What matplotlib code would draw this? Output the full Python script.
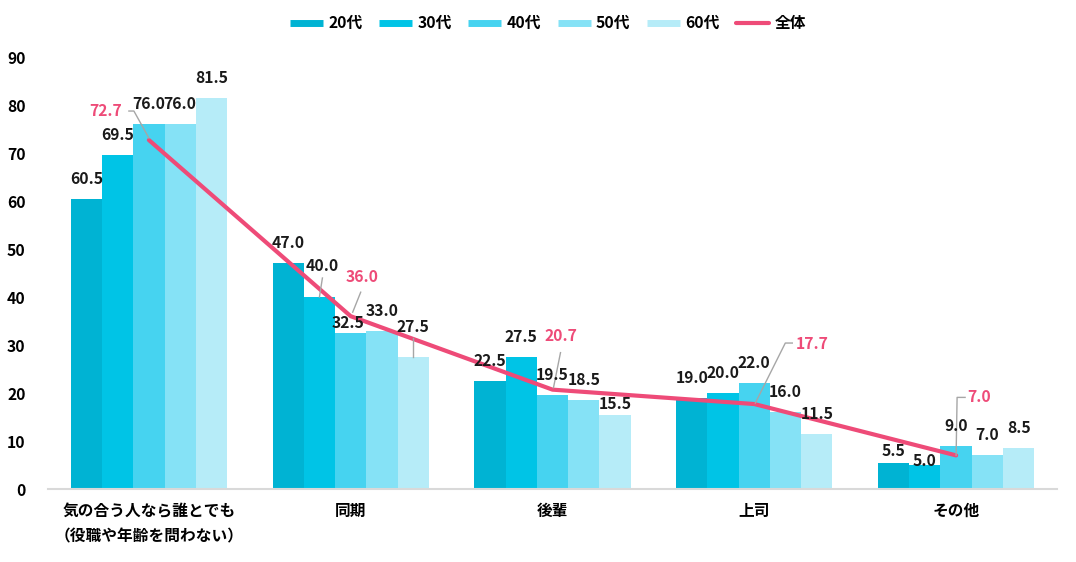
import numpy as np
import matplotlib
matplotlib.use("Agg")
import matplotlib.pyplot as plt
from matplotlib.lines import Line2D

plt.rcParams['font.family'] = ['Noto Sans CJK JP', 'DejaVu Sans']

categories = ["気の合う人なら誰とでも\n（役職や年齢を問わない）", "同期", "後輩", "上司", "その他"]
series_names = ["20代", "30代", "40代", "50代", "60代"]
s20 = [60.5, 47.0, 22.5, 19.0, 5.5]
s30 = [69.5, 40.0, 27.5, 20.0, 5.0]
s40 = [76.0, 32.5, 19.5, 22.0, 9.0]
s50 = [76.0, 33.0, 18.5, 16.0, 7.0]
s60 = [81.5, 27.5, 15.5, 11.5, 8.5]
total = [72.7, 36.0, 20.7, 17.7, 7.0]
yticks = [0, 10, 20, 30, 40, 50, 60, 70, 80, 90]

colors = ["#00B3D3", "#00C4E6", "#46D3F0", "#85E2F6", "#B6ECF8"]
pink = "#EE4B78"
lead = "#A6A6A6"

fig = plt.figure(figsize=(10.76, 5.62), dpi=100)
ax = fig.add_axes([48/1076, 73/562, 1009/1076, 432/562])
ax.set_xlim(-0.5, 4.5)
ax.set_ylim(0, 90)

x = np.arange(len(categories))
w = 0.155
allser = [s20, s30, s40, s50, s60]
for i, s in enumerate(allser):
    ax.bar(x + (i - 2) * w, s, w, color=colors[i], zorder=2)

ax.plot(x, total, color=pink, lw=3, solid_capstyle="round", zorder=4)

def to_data(xd, yd, dx, dy):
    px, py = ax.transData.transform((xd, yd))
    return ax.transData.inverted().transform((px + dx, py + dy))

# label offsets in pixels (dx, dy) relative to bar top; default (0, 20)
bar_off = {(1, 1): (3, 31), (1, 2): (-3, 10), (1, 4): (0, 30),
           (2, 4): (0, 11), (4, 0): (0, 12), (4, 1): (0, 4)}
bar_lead = {(1, 1): (3, 19), (1, 4): (0, 19)}
fs = 11.3
for i, s in enumerate(allser):
    for g, v in enumerate(s):
        xb = x[g] + (i - 2) * w
        dx, dy = bar_off.get((g, i), (0, 20))
        tx, ty = to_data(xb, v, dx, dy)
        ax.text(tx, ty, f"{v:.1f}", ha="center", va="center", fontsize=fs,
                fontweight="bold", color="#1a1a1a", zorder=6)
        if (g, i) in bar_lead:
            ldx, ldy = bar_lead[(g, i)]
            p1 = to_data(xb, v, ldx, ldy)
            p2 = to_data(xb, v, 0, 0)
            ax.plot([p1[0], p2[0]], [p1[1], p2[1]], color=lead, lw=1, zorder=5)

# total labels: label offset and leader path (pixels from point)
tot_off = [(-43, 29), (11, 39), (8, 54), (58, 60), (23, 58)]
tot_lead = [[(-20, 29), (-15, 29), (0, 2)],
            [(10, 24), (2, 4)],
            [(8, 37), (1, 2)],
            [(38, 61), (31, 61), (1, 1)],
            [(9, 58), (1, 58), (0, 0)]]
for g, v in enumerate(total):
    dx, dy = tot_off[g]
    tx, ty = to_data(x[g], v, dx, dy)
    ax.text(tx, ty, f"{v:.1f}", ha="center", va="center", fontsize=fs,
            fontweight="bold", color=pink, zorder=6)
    pts = [to_data(x[g], v, a, b) for a, b in tot_lead[g]]
    ax.plot([p[0] for p in pts], [p[1] for p in pts], color=lead, lw=1, zorder=5)

ax.set_yticks(yticks)
ax.set_xticks(x)
ax.set_xticklabels(categories, fontsize=10.8, fontweight="bold", linespacing=1.75)
ax.tick_params(axis="both", length=0, labelsize=11.3)
ax.tick_params(axis="y", pad=16)
ax.tick_params(axis="x", pad=10)
for lab in ax.get_yticklabels():
    lab.set_fontweight("bold")
for sp in ["top", "right", "left"]:
    ax.spines[sp].set_visible(False)
ax.spines["bottom"].set_color("#D9D9D9")
ax.spines["bottom"].set_linewidth(1.5)

handles = [Line2D([], [], color=c, lw=5, solid_capstyle="butt") for c in colors]
handles.append(Line2D([], [], color=pink, lw=3, solid_capstyle="round"))
fig.legend(handles, series_names + ["全体"], loc="center", bbox_to_anchor=(548/1076, 1 - 23/562),
           ncol=6, frameon=False, handlelength=2.1, handletextpad=0.35, columnspacing=1.05,
           prop={"size": 11.3, "weight": "bold"})

fig.savefig("out.png", dpi=100)
